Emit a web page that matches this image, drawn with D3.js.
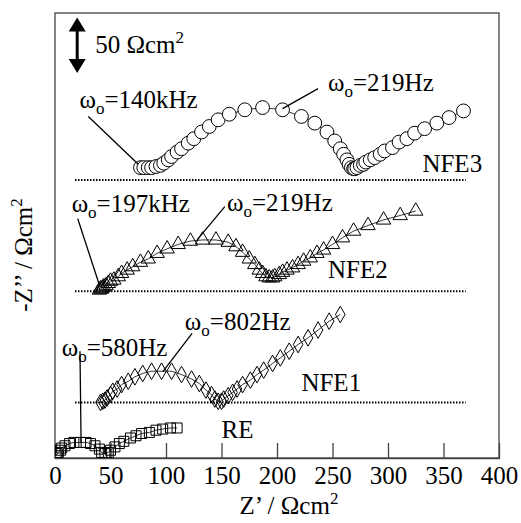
<!DOCTYPE html>
<html>
<head>
<meta charset="utf-8">
<script src="https://cdn.jsdelivr.net/npm/d3@7"></script>
<style>
  body { margin: 0; background: #fff; }
</style>
</head>
<body>
<div id="chart"></div>
<script>
// Impedance spectra (Z', -Z''), each curve shifted upward by its offset
const reX = [1,2,3,5,6,9,13,17,23,28,32,36,40,42,45,48,50,54,58,62,68,73,78,85,91,97,104,110];
const reY = [2,4,5,7,9,11,13,14,14,14,13,11,8,5,4,5,7,10,13,15,18,20,22,23,25,26,27,27];

const nfe1X = [41,43,45,47,50,52,56,60,66,72,79,87,96,105,114,123,130,136,141,144,147,150,152,156,160,164,169,176,182,188,196,203,211,219,228,237,247,257];
const nfe1Y = [0,1,2,4,7,10,12,16,19,23,26,28,28,28,25,21,17,11,7,3,1,1,3,6,9,12,16,20,25,29,35,40,46,52,58,65,73,79];

const nfe2X = [40,41,42,43,44,46,48,50,53,57,60,65,70,77,84,92,101,111,122,133,145,156,163,169,175,180,184,187,190,193,196,198,202,205,209,214,219,224,230,236,242,250,259,269,282,296,311,325];
const nfe2Y = [1,2,2,3,4,5,7,9,10,13,16,19,22,26,29,34,38,42,45,46,46,44,40,35,29,24,19,16,13,12,12,13,15,17,19,21,24,27,30,34,37,42,48,54,59,64,68,72];

const nfe3X = [77,80,84,87,91,95,98,102,105,110,114,120,125,132,139,147,157,171,187,205,222,234,245,252,257,260,263,265,267,269,270,272,275,278,280,284,288,293,297,304,310,317,324,333,344,355,368];
const nfe3Y = [11,11,11,11,12,13,15,18,21,25,28,33,37,43,48,54,59,63,65,63,57,51,43,35,28,23,18,14,11,10,10,11,13,14,16,18,20,23,26,29,34,37,42,46,51,56,62];

const seriesNames = ["RE", "NFE1", "NFE2", "NFE3"];
const offsets = [0, 50, 150, 250];
const baselineRange = [18, 370];
const xTicks = [0, 50, 100, 150, 200, 250, 300, 350, 400];

// label positions in data units [x, y]
const nameLabels = [[150, 18], [222, 60], [246, 162], [331, 257]];
const freqLabels = [
  { text: "580Hz", at: [6, 92], from: [22.5, 96], to: [23.5, 13.5] },
  { text: "802Hz", at: [117, 115], from: [123.5, 112], to: [97, 77.5] },
  { text: "197kHz", at: [15, 221], from: [20.5, 215], to: [40.5, 154] },
  { text: "219Hz", at: [155, 222], from: [153, 226], to: [128, 196] },
  { text: "140kHz", at: [22, 314.5], from: [30, 307], to: [75, 264] },
  { text: "219Hz", at: [246, 330], from: [237, 332], to: [205, 314] }
];
const scaleBar = { x: 20, y0: 346, y1: 396, label: "50 Ωcm" };

const FONT = "'Liberation Serif', 'DejaVu Serif', serif";
const FS = 25;
const W = 521, H = 523;
const margin = { top: 13, right: 22, bottom: 65, left: 55 };
const width = W - margin.left - margin.right;
const height = H - margin.top - margin.bottom;

const svg = d3.select("#chart").append("svg")
    .attr("width", W)
    .attr("height", H)
    .attr("font-family", FONT);

const g = svg.append("g")
    .attr("transform", `translate(${margin.left},${margin.top})`);

const x = d3.scaleLinear().domain([0, 400]).range([0, width]);
const y = d3.scaleLinear().domain([0, 400]).range([height, 0]);

// frame
g.append("rect")
    .attr("width", width)
    .attr("height", height)
    .attr("fill", "none")
    .attr("stroke", "#444")
    .attr("stroke-width", 1.3);

// bottom axis with inward ticks
const xAxis = g.append("g")
    .attr("transform", `translate(0,${height})`)
    .call(d3.axisBottom(x).tickValues(xTicks).tickSize(-15).tickPadding(8));
xAxis.attr("font-family", FONT).attr("font-size", FS);
xAxis.select(".domain").attr("stroke", "#444").attr("stroke-width", 1.3);
xAxis.selectAll(".tick line").attr("stroke", "#444").attr("stroke-width", 1.3)
    .attr("opacity", (d) => (d === 0 || d === 400) ? 0 : 1);
xAxis.selectAll(".tick text")
    .attr("font-family", FONT)
    .attr("font-size", FS)
    .attr("fill", "#000");

// axis titles
const xt = svg.append("text")
    .attr("x", 289).attr("y", 514)
    .attr("text-anchor", "middle")
    .attr("font-family", FONT)
    .attr("font-size", FS);
xt.append("tspan").text("Z’ / Ωcm");
xt.append("tspan").attr("dy", -10).attr("font-size", 17).text("2");

const yt = svg.append("text")
    .attr("transform", "translate(32,255) rotate(-90)")
    .attr("text-anchor", "middle")
    .attr("font-family", FONT)
    .attr("font-size", FS);
yt.append("tspan").text("-Z’’ / Ωcm");
yt.append("tspan").attr("dy", -10).attr("font-size", 17).text("2");

// dotted baselines for shifted curves
g.selectAll(".base")
    .data(offsets.slice(1))
    .enter().append("line")
    .attr("class", "base")
    .attr("x1", x(baselineRange[0]))
    .attr("x2", x(baselineRange[1]))
    .attr("y1", (d) => y(d))
    .attr("y2", (d) => y(d))
    .attr("stroke", "#000")
    .attr("stroke-width", 2)
    .attr("stroke-dasharray", "1.5,1.5");

const allX = [reX, nfe1X, nfe2X, nfe3X];
const allY = [reY, nfe1Y, nfe2Y, nfe3Y];
const series = seriesNames.map((name, i) => ({
  name,
  points: allX[i].map((v, j) => [v, allY[i][j] + offsets[i]])
}));

const plot = g.append("g");
plot.append("clipPath").attr("id", "clip")
  .append("rect").attr("width", width).attr("height", height);
const inner = plot.append("g").attr("clip-path", "url(#clip)");

const line = d3.line().x((d) => x(d[0])).y((d) => y(d[1]));
const symbols = {
  RE: d3.symbolSquare,
  NFE1: d3.symbolDiamond,
  NFE2: d3.symbolTriangle,
  NFE3: d3.symbolCircle
};
const sizes = { RE: 100, NFE1: 80, NFE2: 90, NFE3: 150 };

series.forEach((s) => {
  inner.append("path")
      .datum(s.points)
      .attr("d", line)
      .attr("fill", "none")
      .attr("stroke", "#000")
      .attr("stroke-width", 0.8);
  inner.selectAll(".m-" + s.name)
      .data(s.points)
      .enter().append("path")
      .attr("class", "m-" + s.name)
      .attr("transform", (d) => `translate(${x(d[0])},${y(d[1])})`)
      .attr("d", d3.symbol().type(symbols[s.name]).size(sizes[s.name]))
      .attr("fill", s.name === "NFE3" ? "#fff" : "none")
      .attr("stroke", "#000")
      .attr("stroke-width", 1);
});

// curve names
g.selectAll(".name")
    .data(seriesNames)
    .enter().append("text")
    .attr("x", (d, i) => x(nameLabels[i][0]))
    .attr("y", (d, i) => y(nameLabels[i][1]))
    .attr("font-size", FS)
    .text((d) => d);

// characteristic frequency labels with leader lines
freqLabels.forEach((f) => {
  g.append("line")
      .attr("x1", x(f.from[0])).attr("y1", y(f.from[1]))
      .attr("x2", x(f.to[0])).attr("y2", y(f.to[1]))
      .attr("stroke", "#000")
      .attr("stroke-width", 1.3);
  const t = g.append("text")
      .attr("x", x(f.at[0]))
      .attr("y", y(f.at[1]))
      .attr("font-size", FS);
  t.append("tspan").text("ω");
  t.append("tspan").attr("dy", 6).attr("font-size", 17).text("o");
  t.append("tspan").attr("dy", -6).text("=" + f.text);
});

// scale bar
const bx = x(scaleBar.x);
const by0 = y(scaleBar.y0), by1 = y(scaleBar.y1);
g.append("line")
    .attr("x1", bx).attr("x2", bx)
    .attr("y1", by1 + 12).attr("y2", by0 - 12)
    .attr("stroke", "#000").attr("stroke-width", 3);
g.append("path")
    .attr("d", `M${bx},${by1} L${bx - 8.5},${by1 + 14} L${bx + 8.5},${by1 + 14} Z`)
    .attr("fill", "#000");
g.append("path")
    .attr("d", `M${bx},${by0} L${bx - 8.5},${by0 - 14} L${bx + 8.5},${by0 - 14} Z`)
    .attr("fill", "#000");
const sb = g.append("text")
    .attr("x", bx + 18)
    .attr("y", (by0 + by1) / 2 + 8)
    .attr("font-size", FS);
sb.append("tspan").text(scaleBar.label);
sb.append("tspan").attr("dy", -10).attr("font-size", 17).text("2");
</script>
</body>
</html>
